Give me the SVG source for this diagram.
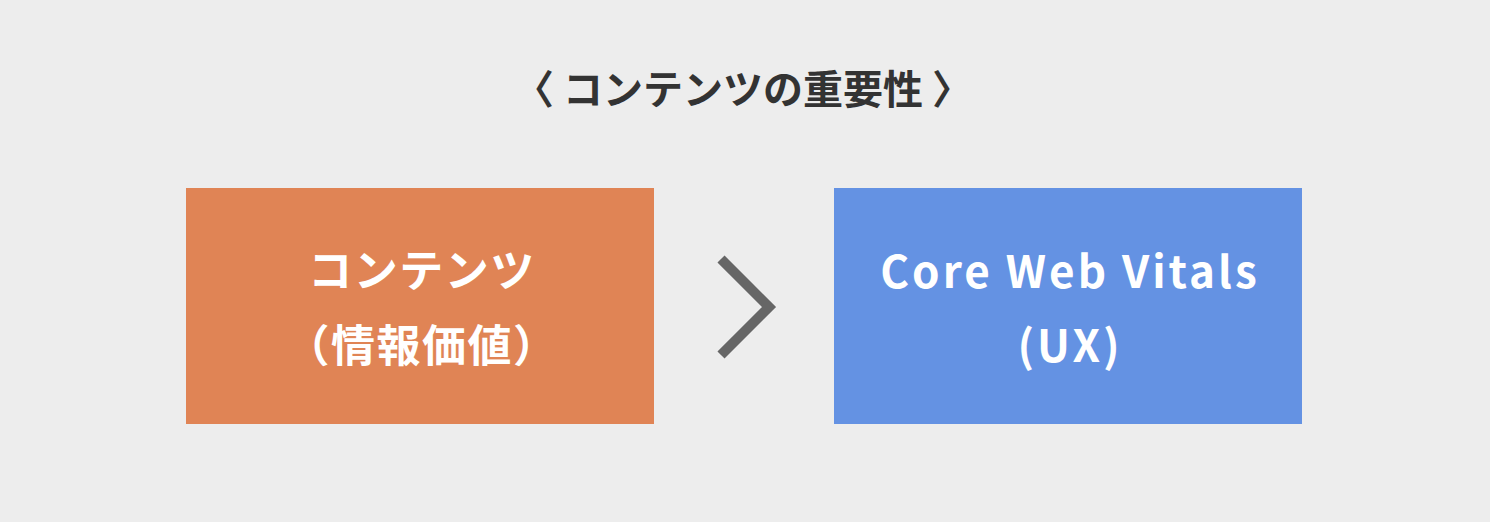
<svg xmlns="http://www.w3.org/2000/svg" width="1490" height="522" viewBox="0 0 1490 522">
<style>
.t{font-family:"Noto Sans CJK JP","Noto Sans",sans-serif;font-weight:700;text-anchor:middle}
.title{font-size:40px;fill:#333333}
.lbl{font-size:44px;fill:#ffffff}
.jp{letter-spacing:1.5px}
.en{letter-spacing:3px}
</style>
<rect x="0" y="0" width="1490" height="522" fill="#ededed"/>
<g id="title"><text class="t title" x="743" y="104">〈 コンテンツの重要性 〉</text></g>
<g id="content">
<rect x="186" y="188" width="468" height="236" fill="#e08455"/>
<text class="t lbl jp" x="422" y="287">コンテンツ</text>
<text class="t lbl jp" x="422" y="362">（情報価値）</text>
</g>
<g id="connectors">
<polyline points="721,259 769,307 721,355" fill="none" stroke="#666666" stroke-width="10"/>
</g>
<g id="cwv">
<rect x="834" y="188" width="468" height="236" fill="#6492e3"/>
<text class="t lbl en" x="1070" y="288">Core Web Vitals</text>
<text class="t lbl en" x="1070" y="362">(UX)</text>
</g>
</svg>
